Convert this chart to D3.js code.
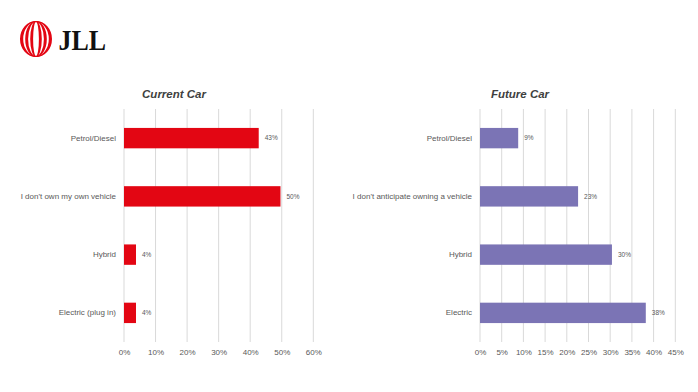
<!DOCTYPE html>
<html><head><meta charset="utf-8">
<script src="https://cdn.jsdelivr.net/npm/d3@7"></script>
<style>body{margin:0;background:#fff}svg{display:block}</style>
</head><body>
<svg id="c" width="698" height="392"></svg>
<script>
const currentCategories = ["Petrol/Diesel","I don't own my own vehicle","Hybrid","Electric (plug in)"];
const currentValues = [0.427, 0.496, 0.038, 0.038];
const currentLabels = ["43%","50%","4%","4%"];
const currentTicks = [0,0.1,0.2,0.3,0.4,0.5,0.6];

const futureCategories = ["Petrol/Diesel","I don't anticipate owning a vehicle","Hybrid","Electric"];
const futureValues = [0.088, 0.226, 0.304, 0.382];
const futureLabels = ["9%","23%","30%","38%"];
const futureTicks = [0,0.05,0.1,0.15,0.2,0.25,0.3,0.35,0.4,0.45];

const svg = d3.select("#c");
const font = "'Liberation Sans', Arial, sans-serif";

// Logo: concentric crescent bands
const logo = svg.append("g");
const cx = 36, cy = 39, ry = 18;
function ell(rx, r){ return `M${cx-rx},${cy} A${rx},${r} 0 1,0 ${cx+rx},${cy} A${rx},${r} 0 1,0 ${cx-rx},${cy} Z`; }
[[16, 12.8], [10.8, 7.9], [5.8, 2.9]].forEach(([a,b]) => {
  logo.append("path").attr("d", ell(a, ry) + ell(b, ry-1)).attr("fill-rule","evenodd").attr("fill","#e30613");
});
logo.append("text").attr("x",58.5).attr("y",50).text("JLL")
  .attr("font-family","'Liberation Serif', 'Times New Roman', serif").attr("font-weight","bold")
  .attr("font-size",30).attr("textLength",47.5).attr("lengthAdjust","spacingAndGlyphs").attr("fill","#111");

function panel(opt){
  const g = svg.append("g");
  const x = d3.scaleLinear().domain([0, opt.max]).range([opt.x0, opt.x1]);
  const y = d3.scaleBand().domain(opt.cats).range([109, 342]).paddingInner(0.65).paddingOuter(0.325);
  g.append("g").selectAll("line").data(opt.ticks).join("line")
    .attr("x1", d=>x(d)).attr("x2", d=>x(d)).attr("y1",109).attr("y2",342)
    .attr("stroke","#d9d9d9").attr("stroke-width",1);
  const ax = d3.axisBottom(x).tickValues(opt.ticks).tickFormat(d3.format(".0%")).tickSize(0).tickPadding(0);
  const axg = g.append("g").attr("transform","translate(0,349)").call(ax);
  axg.select(".domain").remove();
  axg.selectAll("text").attr("font-family",font).attr("font-size",8).attr("fill","#595959").attr("dy","0.71em");
  const ay = d3.axisLeft(y).tickSize(0).tickPadding(0);
  const ayg = g.append("g").attr("transform",`translate(${opt.x0-8},0)`).call(ay);
  ayg.select(".domain").remove();
  ayg.selectAll("text").attr("font-family",font).attr("font-size",8).attr("fill","#595959");
  g.append("g").selectAll("rect").data(opt.vals).join("rect")
    .attr("x", x(0)).attr("y",(d,i)=>y(opt.cats[i]))
    .attr("width", d=>x(d)-x(0)).attr("height", y.bandwidth())
    .attr("fill", opt.color);
  g.append("g").selectAll("text").data(opt.vals).join("text")
    .attr("x", d=>x(d)+6).attr("y",(d,i)=>y(opt.cats[i])+y.bandwidth()/2)
    .attr("dy","0.35em").text((d,i)=>opt.labels[i])
    .attr("font-family",font).attr("font-size",6.5).attr("fill","#595959");
  g.append("text").attr("x",opt.tx).attr("y",98).attr("text-anchor","middle").text(opt.title)
    .attr("font-family",font).attr("font-size",11.5).attr("font-weight","bold").attr("font-style","italic").attr("fill","#404040");
}

panel({cats:currentCategories, vals:currentValues, labels:currentLabels, ticks:currentTicks,
  max:0.6, x0:124, x1:313.3, color:"#e30613", title:"Current Car", tx:174});
panel({cats:futureCategories, vals:futureValues, labels:futureLabels, ticks:futureTicks,
  max:0.45, x0:480, x1:675.3, color:"#7b74b5", title:"Future Car", tx:520});
</script>
</body></html>
